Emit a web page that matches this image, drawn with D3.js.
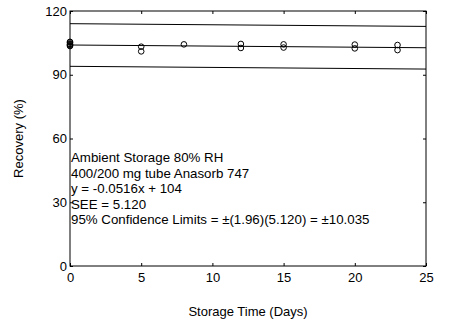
<!DOCTYPE html>
<html>
<head>
<meta charset="utf-8">
<script src="https://cdn.jsdelivr.net/npm/d3@7"></script>
<style>
  html, body { margin: 0; padding: 0; background: #fff; }
  svg { display: block; }
  text { font-family: "Liberation Sans", Arial, sans-serif; fill: #000; }
</style>
</head>
<body>
<div id="chart"></div>
<script>
// Recovery of analyte stored at ambient temperature, 80% RH
const days = [0, 0, 0, 0, 0, 0, 5, 5, 8, 12, 12, 15, 15, 20, 20, 23, 23];
const recovery = [103.8, 104.5, 105.2, 104.2, 105.5, 103.5, 103.2, 101.0, 104.3, 104.5, 102.6, 104.3, 102.8, 104.2, 102.4, 104.0, 101.6];

const slope = -0.0516;
const intercept = 104;
const confLimit = 10.035;

const xTicks = [0, 5, 10, 15, 20, 25];
const yTicks = [0, 30, 60, 90, 120];

const notes = [
  "Ambient Storage 80% RH",
  "400/200 mg tube Anasorb 747",
  "y = -0.0516x + 104",
  "SEE = 5.120",
  "95% Confidence Limits = \u00b1(1.96)(5.120) = \u00b110.035"
];

const W = 450, H = 333;
const margin = { left: 70, right: 24, top: 11, bottom: 67 };

const svg = d3.select("#chart").append("svg")
  .attr("width", W).attr("height", H);

const x = d3.scaleLinear().domain([0, 25]).range([margin.left, W - margin.right]);
const y = d3.scaleLinear().domain([0, 120]).range([H - margin.bottom, margin.top]);

const g = svg.append("g");

// frame
g.append("rect")
  .attr("x", x(0)).attr("y", y(120))
  .attr("width", x(25) - x(0)).attr("height", y(0) - y(120))
  .attr("fill", "none").attr("stroke", "#000").attr("stroke-width", 1);

// axes with inward ticks
const axB = d3.axisBottom(x).tickValues(xTicks).tickSize(-3).tickPadding(7).tickFormat(d3.format("d"));
const axT = d3.axisTop(x).tickValues(xTicks).tickSize(-3).tickFormat("");
const axL = d3.axisLeft(y).tickValues(yTicks).tickSize(-3).tickPadding(3).tickFormat(d3.format("d"));
const axR = d3.axisRight(y).tickValues(yTicks).tickSize(-3).tickFormat("");

function style(sel) {
  sel.select(".domain").remove();
  sel.selectAll("line").attr("stroke", "#000");
  sel.selectAll("text").attr("font-size", 13).attr("fill", "#000")
    .style("font-family", "'Liberation Sans', Arial, sans-serif");
}
g.append("g").attr("transform", `translate(0,${y(0)})`).call(axB).call(style);
g.append("g").attr("transform", `translate(0,${y(120)})`).call(axT).call(style);
g.append("g").attr("transform", `translate(${x(0)},0)`).call(axL).call(style);
g.append("g").attr("transform", `translate(${x(25)},0)`).call(axR).call(style);

// regression line and confidence limits
const fit = d => slope * d + intercept;
[0, confLimit, -confLimit].forEach(off => {
  g.append("line")
    .attr("x1", x(0)).attr("x2", x(25))
    .attr("y1", y(fit(0) + off)).attr("y2", y(fit(25) + off))
    .attr("stroke", "#000").attr("stroke-width", 1);
});

// data points
g.selectAll("circle.pt").data(days.map((d, i) => [d, recovery[i]]))
  .join("circle").attr("class", "pt")
  .attr("cx", d => x(d[0])).attr("cy", d => y(d[1]))
  .attr("r", 2.8).attr("fill", "none").attr("stroke", "#000").attr("stroke-width", 1);

// annotation block
svg.append("g").selectAll("text").data(notes).join("text")
  .attr("x", x(0) + 1)
  .attr("y", (d, i) => 162 + i * 15.6)
  .attr("font-size", 13.3)
  .text(d => d);

// axis titles
svg.append("text")
  .attr("x", (x(0) + x(25)) / 2).attr("y", 316)
  .attr("text-anchor", "middle").attr("font-size", 13)
  .text("Storage Time (Days)");

svg.append("text")
  .attr("transform", `translate(23,${(y(0) + y(120)) / 2}) rotate(-90)`)
  .attr("text-anchor", "middle").attr("font-size", 13)
  .text("Recovery (%)");
</script>
</body>
</html>
